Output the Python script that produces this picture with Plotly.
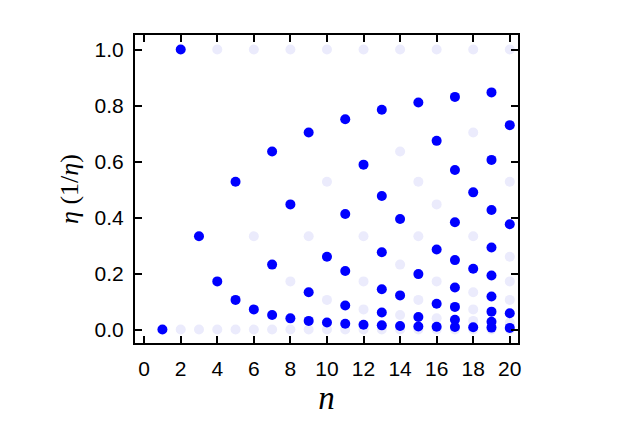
import plotly.graph_objects as go

# Highlighted (dark blue) points
dark_n = [1, 2, 3, 4, 5, 5, 6, 7, 7, 7, 8, 8, 9, 9, 9,
          10, 10, 11, 11, 11, 11, 11, 12, 12,
          13, 13, 13, 13, 13, 13, 14, 14, 14,
          15, 15, 15, 15, 16, 16, 16, 16,
          17, 17, 17, 17, 17, 17, 17, 17,
          18, 18, 18, 19, 19, 19, 19, 19, 19, 19, 19, 19,
          20, 20, 20, 20]
dark_eta = [0.0, 1.0, 0.333, 0.172, 0.106, 0.528, 0.072, 0.052, 0.232, 0.636, 0.040, 0.447, 0.031, 0.133, 0.704,
            0.025, 0.260, 0.021, 0.086, 0.209, 0.413, 0.751, 0.017, 0.589,
            0.015, 0.061, 0.144, 0.276, 0.477, 0.785, 0.013, 0.122, 0.395,
            0.011, 0.045, 0.198, 0.811, 0.010, 0.092, 0.286, 0.674,
            0.009, 0.035, 0.081, 0.150, 0.248, 0.383, 0.570, 0.831,
            0.008, 0.217, 0.490, 0.007, 0.028, 0.064, 0.118, 0.193, 0.293, 0.427, 0.606, 0.847,
            0.006, 0.058, 0.376, 0.730]

# Faint (lavender) points
faint_n = [2, 3, 4, 4, 5, 6, 6, 6, 7, 8, 8, 8, 9, 9,
           10, 10, 10, 10, 11, 12, 12, 12, 12, 12,
           13, 14, 14, 14, 14, 14, 15, 15, 15, 15,
           16, 16, 16, 16, 16, 17,
           18, 18, 18, 18, 18, 18, 18, 19,
           20, 20, 20, 20, 20, 20, 20]
faint_eta = [0.0, 0.0, 0.0, 1.0, 0.0, 0.0, 0.333, 1.0, 0.0, 0.0, 0.172, 1.0, 0.0, 0.333,
             0.0, 0.106, 0.528, 1.0, 0.0, 0.0, 0.072, 0.172, 0.333, 1.0,
             0.0, 0.0, 0.052, 0.232, 0.636, 1.0, 0.0, 0.106, 0.333, 0.528,
             0.0, 0.040, 0.172, 0.447, 1.0, 0.0,
             0.0, 0.031, 0.072, 0.133, 0.333, 0.704, 1.0, 0.0,
             0.0, 0.025, 0.106, 0.172, 0.260, 0.528, 1.0]

x_ticks = [0, 2, 4, 6, 8, 10, 12, 14, 16, 18, 20]
y_ticks = [0.0, 0.2, 0.4, 0.6, 0.8, 1.0]
y_ticklabels = ["0.0", "0.2", "0.4", "0.6", "0.8", "1.0"]

fig = go.Figure()
fig.add_trace(go.Scatter(x=faint_n, y=faint_eta, mode="markers",
                         marker=dict(color="#ebebfc", size=10, line=dict(width=0)),
                         showlegend=False, hoverinfo="skip"))
fig.add_trace(go.Scatter(x=dark_n, y=dark_eta, mode="markers",
                         marker=dict(color="#0000ff", size=10, line=dict(width=0)),
                         showlegend=False))

axis_common = dict(showline=True, linecolor="black", linewidth=2, mirror="ticks",
                   ticks="inside", ticklen=7, tickwidth=2, tickcolor="black",
                   showgrid=False, zeroline=False,
                   tickfont=dict(family="Liberation Sans, Arial, sans-serif", size=21, color="black"))

fig.update_layout(
    width=623, height=442,
    margin=dict(l=127, r=113, t=27, b=107),
    paper_bgcolor="white", plot_bgcolor="white",
    xaxis=dict(range=[-0.5, 20.45], tickvals=x_ticks, ticklabelstandoff=6,
               title=dict(text="<i>n</i>", standoff=0,
                          font=dict(family="Liberation Serif, Times New Roman, serif", size=33, color="black")),
               **axis_common),
    yaxis=dict(range=[-0.048, 1.052], tickvals=y_ticks, ticktext=y_ticklabels, ticklabelstandoff=5,
               title=dict(text="<i>η</i> (1/<i>η</i>)", standoff=8,
                          font=dict(family="Liberation Serif, Times New Roman, serif", size=26, color="black")),
               **axis_common),
)

fig.write_html("out.html")
